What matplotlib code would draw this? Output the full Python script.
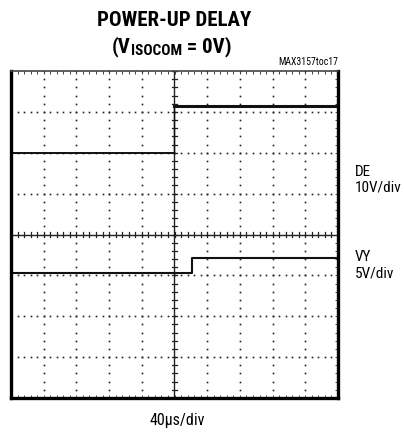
import numpy as np
import matplotlib
matplotlib.use('Agg')
import matplotlib.pyplot as plt

# scope divisions: time in div (40us/div), voltage in div
de_t = [-5, 0, 0, 5]
de_v = [2.0, 2.0, 3.14, 3.14]
vy_t = [-5, 0.53, 0.53, 5]
vy_v = [-0.93, -0.93, -0.57, -0.57]

narrow = ['Roboto Condensed', 'Archivo Narrow', 'PT Sans Narrow', 'Sofia Sans Condensed', 'DejaVu Sans']

fig = plt.figure(figsize=(4.04, 4.32), dpi=100)
ax = fig.add_axes([11 / 404, 34 / 432, 327 / 404, 327 / 432])
ax.set_xlim(-5, 5)
ax.set_ylim(-4, 4)

# dotted graticule
for gx in range(-4, 5):
    if gx == 0:
        continue
    ys = np.arange(-4, 4.01, 0.2)
    ax.plot([gx] * len(ys), ys, ls='none', marker='s', ms=1.2, color='#222222', mew=0)
for gy in range(-3, 4):
    if gy == 0:
        continue
    xs = np.arange(-5, 5.01, 0.2)
    ax.plot(xs, [gy] * len(xs), ls='none', marker='s', ms=1.2, color='#222222', mew=0)

# center axes with minor ticks
ax.axhline(0, color='#222222', lw=1)
ax.axvline(0, color='#222222', lw=1)
for tx in np.arange(-5, 5.01, 0.2):
    ax.plot([tx, tx], [-0.07, 0.07], color='#222222', lw=0.9)
for ty in np.arange(-4, 4.01, 0.2):
    ax.plot([-0.09, 0.09], [ty, ty], color='#222222', lw=0.9)

# traces
ax.plot(de_t[:2], de_v[:2], color='#111111', lw=1.4)
ax.plot(de_t[1:3], de_v[1:3], color='#111111', lw=1.0)
ax.plot(de_t[2:], de_v[2:], color='#111111', lw=2.2)
ax.plot(vy_t, vy_v, color='#111111', lw=1.5)

# frame with small inward ticks on bottom/right
ax.set_xticks([])
ax.set_yticks([])
ax.set_xticks(np.arange(-5, 5.01, 0.2), minor=True)
ax.set_yticks(np.arange(-4, 4.01, 0.2), minor=True)
ax.tick_params(which='minor', direction='in', length=2, width=0.7, color='#444444',
               top=True, right=True, left=False, labelbottom=False, labelleft=False)
for side in ['left', 'right', 'bottom']:
    ax.spines[side].set_linewidth(2.4)
    ax.spines[side].set_color('black')
ax.spines['top'].set_linewidth(1.2)
ax.spines['top'].set_color('#444444')

fig.text(174 / 404, 1 - 20 / 432, 'POWER-UP DELAY', ha='center', va='center',
         fontsize=15, fontweight='bold', family=narrow)

# second title line: (V_ISOCOM = 0V) built from pieces
renderer = fig.canvas.get_renderer()
pieces = [('(V', 15, 0), ('ISOCOM', 11, -3), (' = 0V)', 15, 0)]
texts = []
for s, fs, dy in pieces:
    texts.append(fig.text(0, 0, s, fontsize=fs, fontweight='bold', family=narrow,
                          ha='left', va='baseline'))
widths = [t.get_window_extent(renderer).width for t in texts]
x0 = 172 - sum(widths) / 2
base = 432 - 52
for t, w, (s, fs, dy) in zip(texts, widths, pieces):
    t.set_transform(matplotlib.transforms.IdentityTransform())
    t.set_position((x0, base + dy))
    x0 += w

fig.text(338 / 404, 1 - 62 / 432, 'MAX3157toc17', ha='right', va='center',
         fontsize=7, family=narrow)
fig.text(355 / 404, 1 - 172 / 432, 'DE', ha='left', va='center', fontsize=11, family=narrow)
fig.text(355 / 404, 1 - 188 / 432, '10V/div', ha='left', va='center', fontsize=11, family=narrow)
fig.text(355 / 404, 1 - 257 / 432, 'VY', ha='left', va='center', fontsize=11, family=narrow)
fig.text(355 / 404, 1 - 273 / 432, '5V/div', ha='left', va='center', fontsize=11, family=narrow)
fig.text(177 / 404, 1 - 420 / 432, '40\u00b5s/div', ha='center', va='center', fontsize=11.5, family=narrow)

fig.savefig('out.png', dpi=100)
